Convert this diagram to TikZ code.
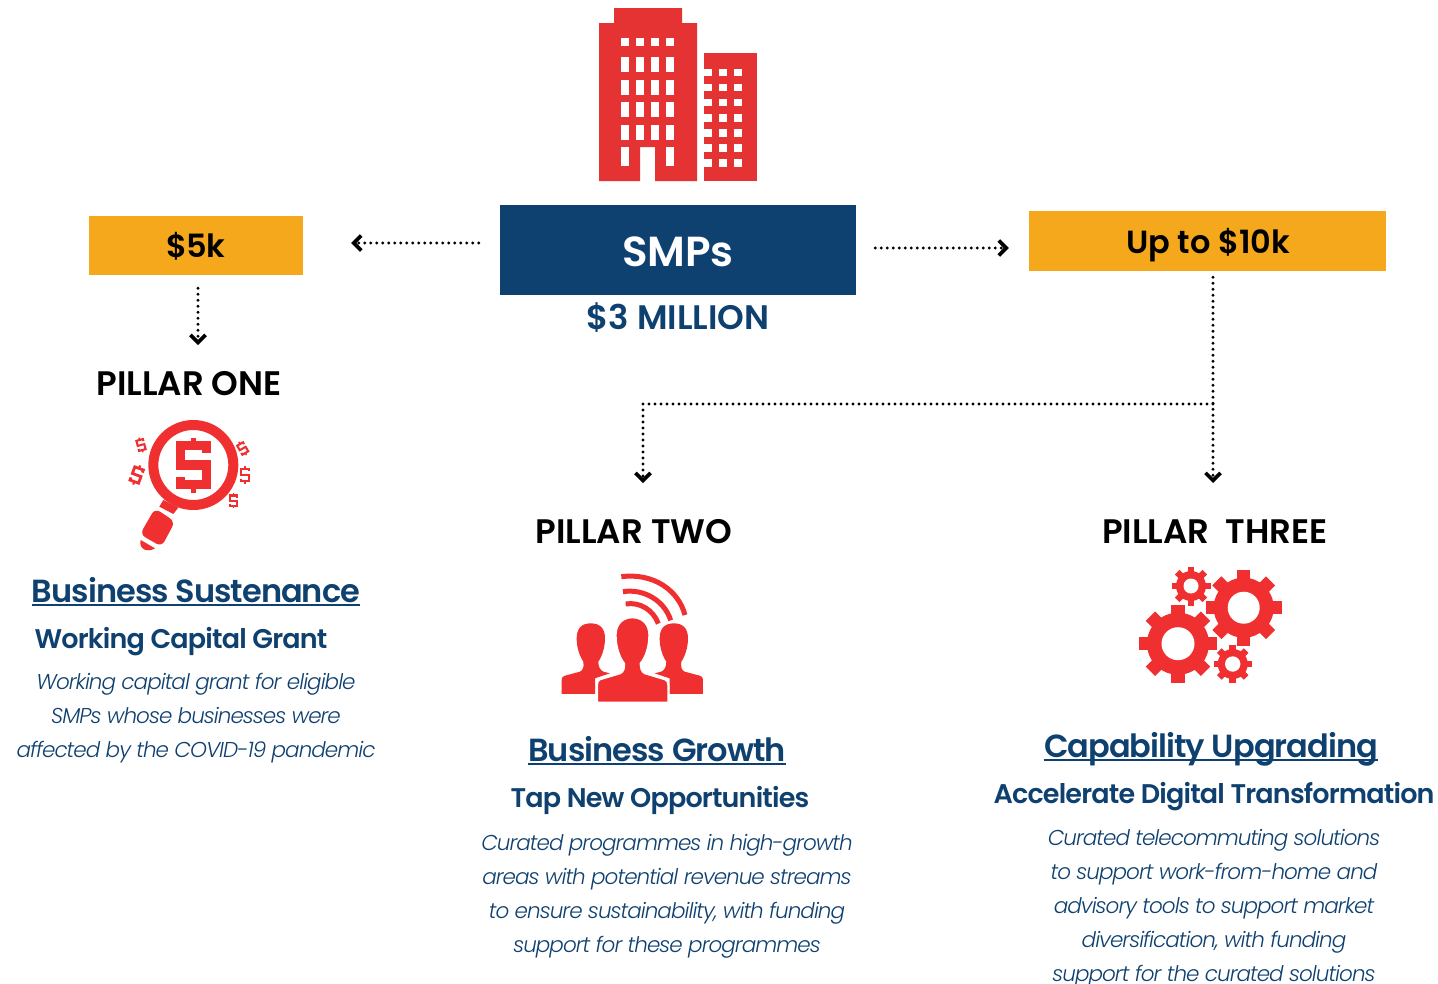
\documentclass[tikz,border=0pt]{standalone}
\usepackage{fontspec}
\setmainfont{Poppins}[BoldFont={Poppins SemiBold},ItalicFont={Poppins Light Italic}]
\usetikzlibrary{arrows.meta}
\definecolor{navy}{HTML}{0F4170}
\definecolor{amber}{HTML}{F5A81C}
\definecolor{bldred}{HTML}{E53232}
\definecolor{icored}{HTML}{F03030}
\newcommand{\track}[1]{\addfontfeatures{LetterSpace=#1}}
\newsavebox{\ulbox}
\newcommand{\ulined}[1]{\sbox{\ulbox}{#1}\rlap{\rule[-3.5pt]{\wd\ulbox}{2pt}}\usebox{\ulbox}}
\tikzset{
  amberbox/.style={fill=amber,inner sep=0pt},
  navybox/.style={fill=navy,inner sep=0pt},
  conn/.style={line width=3.2pt,line cap=round,dash pattern=on 0pt off 6pt,-{Straight Barb[length=7.5pt,width=15pt,line width=3.6pt]}},
  boxlabel/.style={anchor=base,inner sep=0pt,font=\fontsize{32}{36}\selectfont\bfseries,text=black},
  pillar/.style={anchor=base,inner sep=0pt,font=\fontsize{34}{38}\selectfont\bfseries,text=black},
  heading/.style={anchor=base,inner sep=0pt,font=\fontsize{32}{36}\selectfont\bfseries\track{-3},text=navy},
  subhead/.style={anchor=base,inner sep=0pt,font=\fontsize{27}{32}\selectfont\bfseries\track{-3},text=navy},
  descr/.style={inner sep=0pt,align=center,font=\fontsize{21.5}{34}\selectfont\itshape\track{-4.5},text=navy},
}
\newcommand{\gearicon}[5]{% cx cy outer body hole
  \begin{scope}[shift={(#1,#2)}]
    \foreach \a in {0,45,...,315}
      \fill[icored,rotate=\a] (0,-#3*0.17) rectangle (#3,#3*0.17);
    \fill[icored] (0,0) circle[radius=#4];
    \fill[white] (0,0) circle[radius=#5];
  \end{scope}}
\newcommand{\dollarmark}[4]{% x y scale rot
  \begin{scope}[shift={(#1,#2)},rotate=#4,scale=#3]
    \draw[icored,line width=#3*8pt] (13,-12) -- (13,-20) -- (-13,-20) -- (-13,0) -- (13,0) -- (13,20) -- (-13,20) -- (-13,12);
    \fill[icored] (-3,-29) rectangle (3,-20);
    \fill[icored] (-3,20) rectangle (3,29);
  \end{scope}}
\begin{document}
\begin{tikzpicture}[x=1pt,y=-1pt]
\useasboundingbox (0,0) rectangle (1438,983);
\fill[white] (0,0) rectangle (1438,983);

% building
\fill[bldred] (599,181) -- (599,23) -- (614,23) -- (614,8) -- (682,8) -- (682,23) -- (697,23) -- (697,181) -- (655,181) -- (655,147) -- (640,147) -- (640,181) -- cycle;
\fill[bldred] (704,53) rectangle (757,181);
\foreach \c in {621.3,636.3,651.3,666.3} {
  \fill[white] (\c,38) rectangle ++(7.7,8);
  \foreach \r in {57.3,80,102.3,125}
    \fill[white] (\c,\r) rectangle ++(7.7,15);
}
\fill[white] (621.3,147) rectangle ++(7.7,19);
\fill[white] (666.3,147) rectangle ++(7.7,19);
\foreach \r in {68.7,83.7,98.7,114,129,144,159} {
  \fill[white] (704,\r) rectangle ++(7.7,7.6);
  \fill[white] (719.3,\r) rectangle ++(7.4,7.6);
  \fill[white] (734.3,\r) rectangle ++(7.4,7.6);
}

% boxes
\node[navybox,minimum width=356pt,minimum height=90pt] (smps) at (678,250) {};
\node[anchor=base,inner sep=0pt,font=\fontsize{42}{46}\selectfont\bfseries,text=white] (smpslabel) at (678,266) {SMPs};
\node[boxlabel,text=navy,font=\fontsize{34}{38}\selectfont\bfseries] (fund) at (678,329) {\$3 MILLION};
\node[amberbox,minimum width=214pt,minimum height=59pt] (five) at (196,245.5) {};
\node[boxlabel,font=\fontsize{32}{36}\selectfont\bfseries\track{-3}] (fivelabel) at (196,257) {\$5k};
\node[amberbox,minimum width=357pt,minimum height=60pt] (ten) at (1207.5,241) {};
\node[boxlabel] (tenlabel) at (1208,253) {Up to \$10k};

% pillars
\node[pillar] (p1) at (189,395) {PILLAR ONE};
\node[pillar] (p2) at (634,543) {PILLAR TWO};
\node[pillar] (p3) at (1215,543) {PILLAR~~THREE};

% connectors
\draw[conn] ([shift={(-21,-7)}]smps.west) -- ([shift={(48,-2.5)}]five.east);
\draw[conn] ([shift={(19,-2)}]smps.east) -- ([shift={(-20,7)}]ten.west);
\draw[conn] ([shift={(2,13)}]five.south) -- ([shift={(9,-50)}]p1.base);
\coordinate (branch) at (1213,404);
\draw[conn] ([shift={(5.5,6)}]ten.south) -- (branch) -- ([shift={(-2,-60)}]p3.base);
\draw[conn] (branch) -- (643,404) -- ([shift={(9,-60)}]p2.base);

% magnifier
\begin{scope}[shift={(110,410)},x=.3333pt,y=-.3333pt]
  \draw[icored,line width=10pt] (250,165) circle[radius=120];
  \fill[icored] (160,270) -- (148,290) -- (190,312) -- (205,293) -- cycle;
  \fill[icored,rounded corners=6pt] (135,295) -- (195,335) -- (155,410) -- (90,373) -- cycle;
  \fill[icored] (92,390) -- (135,415) .. controls (115,428) and (85,420) .. (92,390) -- cycle;
  \draw[icored,line width=9.5pt] (289,128) -- (289,106) -- (212,106) -- (212,165) -- (289,165) -- (289,224) -- (212,224) -- (212,202);
  \fill[icored] (243,85) rectangle (257,106);
  \fill[icored] (243,224) rectangle (257,248);
\end{scope}
\dollarmark{141}{445}{.26}{15}
\dollarmark{136.7}{475}{.35}{-20}
\dollarmark{242.7}{448.5}{.26}{30}
\dollarmark{245}{475}{.3}{0}
\dollarmark{233.3}{500.7}{.26}{0}

% people
\begin{scope}[shift={(550,560)},x=.3333pt,y=-.3333pt]
  \foreach \flip/\off in {1/0,-1/494} {
    \begin{scope}[xscale=\flip,xshift=\off*.3333pt*\flip]
    \fill[icored] (122,190) .. controls (150,190) and (165,205) .. (165,235) .. controls (165,265) and (155,290) .. (145,305) .. controls (145,320) and (150,330) .. (160,335) -- (180,340) -- (135,355) -- (135,402) -- (35,402) -- (35,360) .. controls (35,352) and (38,349) .. (45,347) -- (90,335) .. controls (100,330) and (102,320) .. (100,305) .. controls (90,290) and (80,265) .. (80,235) .. controls (80,205) and (95,190) .. (122,190) -- cycle;
    \end{scope}
  }
  \filldraw[fill=icored,draw=white,line width=2pt] (247,172) .. controls (280,172) and (298,195) .. (298,225) .. controls (298,265) and (285,295) .. (272,310) .. controls (272,325) and (275,335) .. (285,340) -- (345,358) .. controls (352,361) and (355,366) .. (355,375) -- (355,428) -- (141,428) -- (141,375) .. controls (141,366) and (144,361) .. (150,358) -- (210,340) .. controls (220,335) and (224,325) .. (222,310) .. controls (210,295) and (197,265) .. (197,225) .. controls (197,195) and (215,172) .. (247,172) -- cycle;
  \draw[icored,line width=5pt] (214,50) .. controls (310,38) and (385,90) .. (405,165);
  \draw[icored,line width=5pt] (219,95) .. controls (285,85) and (345,125) .. (362,181);
  \draw[icored,line width=5pt] (227,132) .. controls (270,125) and (310,150) .. (325,191);
\end{scope}

% gears
\gearicon{1178}{643.7}{39}{31}{16.5}
\gearicon{1243.7}{607.7}{38}{30}{16}
\gearicon{1191}{586}{19.5}{15}{7.5}
\gearicon{1232.7}{664}{19}{15}{7.7}

% pillar one text
\node[heading] (h1) at (196,602) {\ulined{Business Sustenance}};
\node[subhead] (s1) at (181,648) {Working Capital Grant};
\node[descr] (d1) at (196,718.5) {Working capital grant for eligible\\SMPs whose businesses were\\affected by the COVID-19 pandemic};
% pillar two text
\node[heading] (h2) at (657,761) {\ulined{Business Growth}};
\node[subhead] (s2) at (660,807) {Tap New Opportunities};
\node[descr] (d2) at (667,896.5) {Curated programmes in high-growth\\areas with potential revenue streams\\to ensure sustainability, with funding\\support for these programmes};
% pillar three text
\node[heading] (h3) at (1211,757) {\ulined{Capability Upgrading}};
\node[subhead] (s3) at (1214,803) {Accelerate Digital Transformation};
\node[descr] (d3) at (1214,908.5) {Curated telecommuting solutions\\to support work-from-home and\\advisory tools to support market\\diversification, with funding\\support for the curated solutions};
\end{tikzpicture}
\end{document}
